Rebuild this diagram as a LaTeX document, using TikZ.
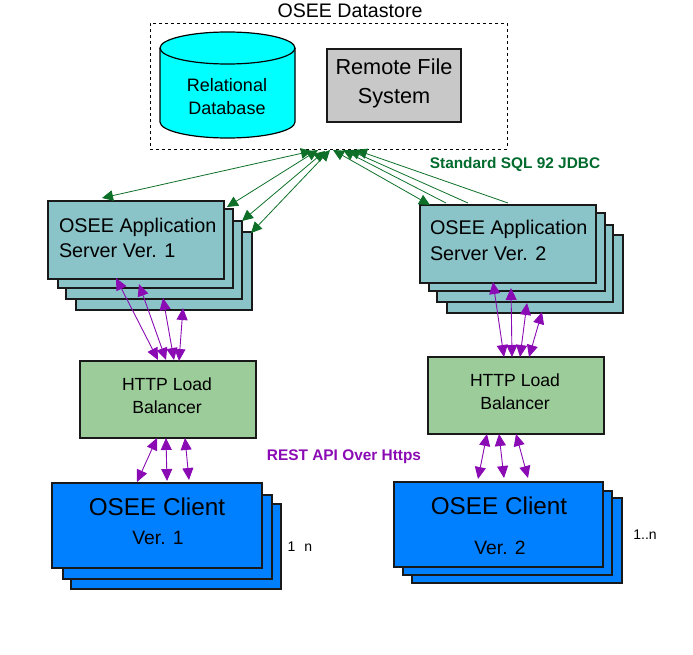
\documentclass[tikz,border=0pt]{standalone}
\usepackage{fontspec}
\setmainfont{Liberation Sans}
\usetikzlibrary{arrows.meta}
\definecolor{teal1}{HTML}{8AC3C8}
\definecolor{green1}{HTML}{9CCC99}
\definecolor{blue1}{HTML}{0080FF}
\definecolor{gray1}{HTML}{C8C8C8}
\definecolor{cyan1}{HTML}{00FFFF}
\definecolor{linkgreen}{HTML}{0E7028}
\definecolor{linkpurple}{HTML}{8A0BB4}
\definecolor{txtgreen}{HTML}{006B2D}
\newcommand{\fsz}[1]{\fontsize{#1}{#1}\selectfont}
\newcommand{\panel}[6]{\node[#1, minimum width=#4-#2, minimum height=#5-#3] (#6) at ({(#2+#4)/2},{(#3+#5)/2}) {};}
\tikzset{
  x=1pt,y=-1pt,
  boxbase/.style={draw=black!90,line width=1.4pt,rectangle,inner sep=0pt,outer sep=0pt},
  appbox/.style={boxbase,fill=teal1},
  lbbox/.style={boxbase,fill=green1},
  clientbox/.style={boxbase,fill=blue1},
  filebox/.style={boxbase,fill=gray1},
  label/.style={inner sep=0pt,outer sep=0pt,text=black},
  gtip/.tip={Triangle[length=11pt,width=10.5pt,fill=linkgreen]},
  ptip/.tip={Triangle[length=12pt,width=11pt,fill=linkpurple]},
  sql/.style={draw=linkgreen,line width=0.8pt,-gtip},
  sqlboth/.style={draw=linkgreen,line width=0.8pt,gtip-gtip},
  rest/.style={draw=linkpurple,line width=0.9pt,ptip-ptip},
}
\begin{document}
\begin{tikzpicture}
\useasboundingbox (0,0) rectangle (693,655);
% Datastore
\node[draw=black,dashed,line width=0.8pt,rectangle,inner sep=0pt,minimum width=357pt,minimum height=126pt] (store) at (328.5,86) {};
\node[label,font=\fsz{19.6}] (storelabel) at (350,11) {OSEE Datastore};
\path[draw=black,line width=1.2pt,fill=cyan1] (160,48) arc[start angle=180,end angle=0,x radius=67.5pt,y radius=16pt] -- (295,122) arc[start angle=0,end angle=180,x radius=67.5pt,y radius=-16pt] -- cycle;
\draw[line width=1.2pt] (160,48) arc[start angle=180,end angle=360,x radius=67.5pt,y radius=16pt];
\node[label,font=\fsz{18},align=center] (dblabel) at (227,96.5) {Relational\\[5pt]Database};
\panel{filebox}{327}{49}{461}{122}{file}
\node[label,font=\fsz{21.7},align=center] (filelabel) at (394,83.5) {Remote File\\[7.5pt]System};
% App servers 1
\panel{appbox}{76}{232}{252}{310}{aone4}
\panel{appbox}{66}{221}{242}{299}{aone3}
\panel{appbox}{58}{209}{233}{288}{aone2}
\panel{appbox}{48}{201}{224}{279}{aone1}
\node[label,font=\fsz{19.8},align=left,anchor=north west] (aonelabel) at (59,218) {OSEE Application\\[5.5pt]Server Ver. 1};
% App servers 2
\panel{appbox}{447}{235}{623}{313}{atwo4}
\panel{appbox}{437}{225}{613}{302}{atwo3}
\panel{appbox}{429}{213}{605}{291}{atwo2}
\panel{appbox}{420}{205}{596}{283}{atwo1}
\node[label,font=\fsz{19.8},align=left,anchor=north west] (atwolabel) at (430,220) {OSEE Application\\[6.5pt]Server Ver. 2};
% Load balancers
\panel{lbbox}{80}{361}{256}{438}{lbone}
\node[label,font=\fsz{17.6},align=center] (lbonelabel) at (167,396) {HTTP Load\\[5.5pt]Balancer};
\panel{lbbox}{428}{357}{604}{434}{lbtwo}
\node[label,font=\fsz{17.6},align=center] (lbtwolabel) at (515,392) {HTTP Load\\[5pt]Balancer};
% Clients 1
\panel{clientbox}{71}{504}{281}{589}{cone3}
\panel{clientbox}{63}{495}{272}{579}{cone2}
\panel{clientbox}{52}{483}{262}{568}{cone1}
\node[label,font=\fsz{24.3}] (conelabel) at (157,507) {OSEE Client};
\node[label,font=\fsz{19.3}] (conever) at (158,538) {Ver. 1};
% Clients 2
\panel{clientbox}{412}{498}{622}{583}{ctwo3}
\panel{clientbox}{403}{491}{612}{575}{ctwo2}
\panel{clientbox}{394}{482}{603}{567}{ctwo1}
\node[label,font=\fsz{24.3}] (ctwolabel) at (499,506) {OSEE Client};
\node[label,font=\fsz{19.3}] (ctwover) at (500,548) {Ver. 2};
% Annotations
\node[label,font=\fsz{14}] (none) at (300,547) {1\hspace{9pt}n};
\node[label,font=\fsz{14}] (ntwo) at (645,535) {1..n};
\node[label,font=\bfseries\fsz{15.4},text=txtgreen] (sqllabel) at (515,164) {Standard SQL 92 JDBC};
\node[label,font=\bfseries\fsz{15.4},text=linkpurple] (restlabel) at (344,456.5) {REST API Over Https};
% Connector end points
\foreach \n/\x/\y in {
 ga1/312/151, gb1/102/198, ga2/318/150, gb2/227/207, ga3/325/151, gb3/242/221, ga4/330/150, gb4/251/233,
 ha1/333/150, hb1/430/205, ha2/343/150, hb2/446/203, ha3/349/150, hb3/468/203, ha4/356/150, hb4/508/203,
 pa1/116/278, pb1/158/360, pa2/139/284, pb2/166/360, pa3/163/298, pb3/174/360, pa4/183/308, pb4/179/361,
 qa1/493/282, qb1/504/357, qa2/511/288, qb2/512/357, qa3/527/303, qb3/520/357, qa4/542/312, qb4/529/357,
 ra1/157/438, rb1/137/482, ra2/166/438, rb2/167/481, ra3/185/438, rb3/189/480,
 sa1/487/434, sb1/478/479, sa2/499/434, sb2/504/478, sa3/516/434, sb3/528/478}
 {\coordinate (\n) at (\x,\y);}
% SQL links
\foreach \i in {1,2,3,4} {\draw[sqlboth] (ga\i) -- (gb\i);}
\draw[sqlboth] (ha1) -- (hb1);
\foreach \i in {2,3,4} {\draw[sql] (hb\i) -- (ha\i);}
% REST links
\foreach \i in {1,2,3,4} {\draw[rest] (pa\i) -- (pb\i); \draw[rest] (qa\i) -- (qb\i);}
\foreach \i in {1,2,3} {\draw[rest] (ra\i) -- (rb\i); \draw[rest] (sa\i) -- (sb\i);}
\end{tikzpicture}
\end{document}
